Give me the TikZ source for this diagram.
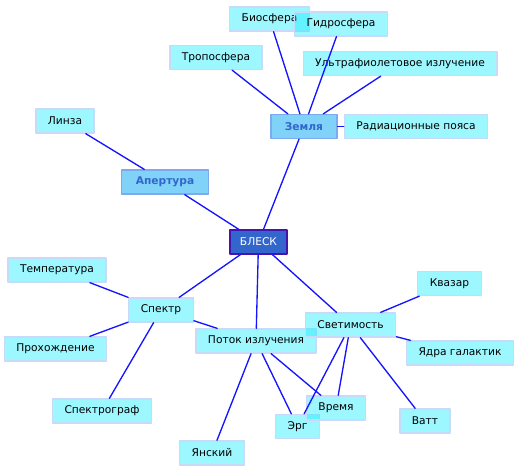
\documentclass[tikz,border=0pt]{standalone}
\usepackage{fontspec}
\setmainfont{DejaVu Sans}
\usepackage{xcolor}
\definecolor{leaffill}{RGB}{10,236,255}
\definecolor{leafline}{RGB}{200,218,250}
\definecolor{midfill}{RGB}{128,210,248}
\definecolor{midline}{RGB}{125,170,238}
\definecolor{midtext}{RGB}{51,102,204}
\definecolor{rootfill}{RGB}{51,102,204}
\definecolor{rootline}{RGB}{70,20,170}
\definecolor{edgeblue}{RGB}{20,20,255}
\tikzset{
  every picture/.style={line join=round, line cap=round},
  leaf/.style={draw=leafline, line width=1pt, fill=leaffill, fill opacity=0.4, text opacity=1,
    inner xsep=9pt, minimum height=18pt, font=\fontsize{8}{9.5}\selectfont},
  mid/.style={draw=midline, line width=1pt, fill=midfill, text=midtext,
    inner xsep=10.5pt, minimum height=18pt, font=\fontsize{8}{9.5}\selectfont\bfseries},
  root/.style={draw=rootline, line width=1pt, fill=rootfill, text=white,
    inner xsep=7.5pt, minimum height=18pt, font=\fontsize{8}{9.5}\selectfont},
  link/.style={draw=edgeblue, line width=1pt},
}

\begin{document}
\begin{tikzpicture}[x=0.75pt,y=-0.75pt]
\useasboundingbox (0,0) rectangle (520,472);
% upper branch
\node[leaf] (biosf) at (269.5,19) {Биосфера};
\node[leaf] (gidro) at (341,24) {Гидросфера};
\node[leaf] (tropo) at (216,57.5) {Тропосфера};
\node[leaf] (ultra) at (400,63.5) {Ультрафиолетовое излучение};
\node[mid] (zemlya) at (304,126.5) {Земля};
\node[leaf] (radia) at (416,126.5) {Радиационные пояса};
\node[leaf] (linza) at (65,121) {Линза};
\node[mid] (apert) at (165,182) {Апертура};
\node[root] (blesk) at (258.5,242) {БЛЕСК};
% lower branch
\node[leaf] (temper) at (57,270) {Температура};
\node[leaf] (spektr) at (161,310) {Спектр};
\node[leaf] (prohod) at (55.5,349) {Прохождение};
\node[leaf] (potok) at (256,341) {Поток излучения};
\node[leaf] (svetim) at (350.5,325) {Светимость};
\node[leaf] (kvazar) at (449.5,283.5) {Квазар};
\node[leaf] (yadra) at (460,353) {Ядра галактик};
\node[leaf] (spgraf) at (102,411) {Спектрограф};
\node[leaf] (yansk) at (212,453) {Янский};
\node[leaf] (erg) at (297.5,426.5) {Эрг};
\node[leaf] (vremya) at (336,408) {Время};
\node[leaf] (vatt) at (425,421) {Ватт};
% connectors
\foreach \a/\b in {zemlya/biosf, zemlya/gidro, zemlya/tropo, zemlya/ultra, zemlya/radia,
    apert/linza, blesk/apert, blesk/zemlya, blesk/spektr, blesk/potok, blesk/svetim,
    spektr/temper, spektr/prohod, spektr/spgraf, spektr/potok,
    potok/yansk, potok/erg, potok/vremya,
    svetim/kvazar, svetim/yadra, svetim/erg, svetim/vremya, svetim/vatt}
  \draw[link] (\a) -- (\b);
\end{tikzpicture}
\end{document}
